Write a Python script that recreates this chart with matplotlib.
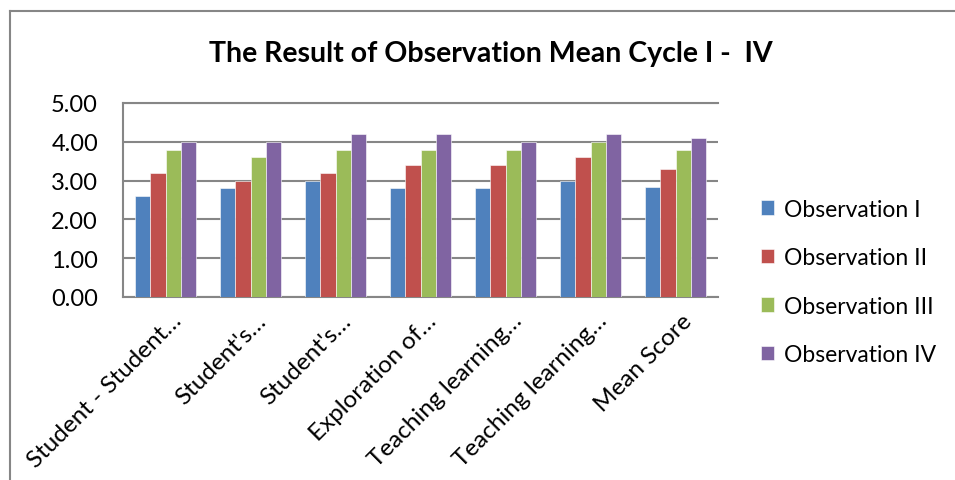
import matplotlib
matplotlib.use("Agg")
import matplotlib.pyplot as plt
import numpy as np
from matplotlib.lines import Line2D

categories = ["Student - Student\u2026", "Student's\u2026", "Student's\u2026", "Exploration of\u2026",
              "Teaching learning\u2026", "Teaching learning\u2026", "Mean Score"]
obs_1 = [2.6, 2.8, 3.0, 2.8, 2.8, 3.0, 2.83]
obs_2 = [3.2, 3.0, 3.2, 3.4, 3.4, 3.6, 3.30]
obs_3 = [3.8, 3.6, 3.8, 3.8, 3.8, 4.0, 3.80]
obs_4 = [4.0, 4.0, 4.2, 4.2, 4.0, 4.2, 4.10]
series_names = ["Observation I", "Observation II", "Observation III", "Observation IV"]
y_ticks = [0, 1, 2, 3, 4, 5]

colors = ["#4F81BD", "#C0504D", "#9BBB59", "#8064A2"]
FONT = "Lato"
W, H = 955, 481

fig = plt.figure(figsize=(W / 100, H / 100), dpi=100)
# chart-area border: only left and top edges fall inside the crop
fig.lines.append(Line2D([10 / W, 10 / W], [0, 1 - 12 / H], transform=fig.transFigure,
                        color="#868686", linewidth=1.5))
fig.lines.append(Line2D([10 / W, 1], [1 - 12 / H, 1 - 12 / H], transform=fig.transFigure,
                        color="#868686", linewidth=1.5))

ax = fig.add_axes([123 / W, (H - 298) / H, (718 - 123) / W, (298 - 104) / H])
x = np.arange(len(categories))
bw = 1 / 5.5
for i, (vals, name) in enumerate(zip([obs_1, obs_2, obs_3, obs_4], series_names)):
    ax.bar(x + (i - 1.5) * bw, vals, width=bw, color=colors[i], label=name,
           edgecolor="#ffffff", linewidth=0.4, zorder=3)

ax.set_xlim(-0.5, len(categories) - 0.5)
ax.set_ylim(0, 5)
ax.set_yticks(y_ticks)
ax.set_yticklabels([f"{v:.2f}" for v in y_ticks], fontsize=17, family=FONT)
ax.yaxis.grid(True, color="#868686", linewidth=1.5, zorder=0)
ax.tick_params(axis="both", length=0)
ax.tick_params(axis="y", pad=18)
ax.set_xticks(x + 0.06)
ax.set_xticklabels(categories, rotation=45, ha="right", va="top", rotation_mode="anchor",
                   fontsize=17.5, family=FONT)
ax.tick_params(axis="x", pad=9)
for s in ax.spines.values():
    s.set_color("#868686")
    s.set_linewidth(1.5)
ax.spines["right"].set_visible(False)

fig.text(491 / W, 1 - 54 / H, "The Result of Observation Mean Cycle I -  IV", ha="center", va="center",
         fontsize=20.5, fontweight="bold", family=FONT)

leg = fig.legend(loc="center left", bbox_to_anchor=(740 / W, 1 - 283 / H), frameon=False,
                 prop={"family": FONT, "size": 16.5}, handlelength=0.6, handleheight=0.6,
                 labelspacing=1.2, handletextpad=0.4)

fig.savefig("out.png", dpi=100)
